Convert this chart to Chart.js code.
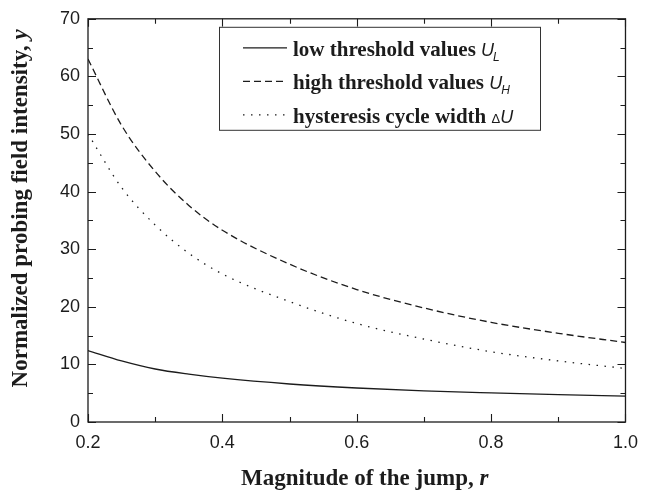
<!DOCTYPE html>
<html>
<head>
<meta charset="utf-8">
<script src="https://cdn.jsdelivr.net/npm/chart.js@4.4.1/dist/chart.umd.min.js"></script>
<style>
html,body{margin:0;padding:0;background:#fff;}
#wrap{width:648px;height:496px;}
</style>
</head>
<body>
<div id="wrap"><canvas id="c" width="648" height="496"></canvas></div>
<script>
// ---- data ----
const rValues       = [0.2, 0.25, 0.3, 0.35, 0.4, 0.5, 0.6, 0.7, 0.8, 0.9, 1.0];
const lowThreshold  = [12.4, 10.6, 9.2, 8.3, 7.6, 6.6, 5.9, 5.4, 5.05, 4.75, 4.5];
const highThreshold = [63.0, 51.5, 43.5, 37.6, 33.3, 27.4, 23.0, 19.8, 17.3, 15.4, 13.8];
const cycleWidth    = [50.0, 40.7, 34.2, 29.3, 25.7, 20.9, 17.1, 14.4, 12.2, 10.6, 9.3];

const xMajorTicks = [0.2, 0.4, 0.6, 0.8, 1.0];
const xMinorTicks = [0.3, 0.5, 0.7, 0.9];
const yMajorTicks = [0, 10, 20, 30, 40, 50, 60, 70];
const yMinorTicks = [5, 15, 25, 35, 45, 55, 65];

const seriesNames   = ['low threshold values ', 'high threshold values ', 'hysteresis cycle width '];
const seriesPrefix  = ['', '', '\u0394'];
const seriesSymbol  = ['U', 'U', 'U'];
const seriesSub     = ['L', 'H', ''];

const xTitleText = ['Magnitude of the jump, ', 'r'];
const yTitleText = ['Normalized probing field intensity, ', 'y'];

// ---- styles ----
const INK = '#1c1c1c';
const dashes = [[], [7, 4], [1.5, 6.5]];
const seriesValues = [lowThreshold, highThreshold, cycleWidth];

const datasets = seriesValues.map((vals, i) => ({
  label: seriesNames[i] + seriesPrefix[i] + seriesSymbol[i] + seriesSub[i],
  data: rValues.map((r, k) => ({x: r, y: vals[k]})),
  borderColor: INK,
  borderWidth: 1.3,
  borderDash: dashes[i],
  pointRadius: 0,
  fill: false,
  cubicInterpolationMode: 'monotone'
}));

const serifBold = (px) => 'bold ' + px + 'px "Liberation Serif", "Times New Roman", serif';
const serifBoldItalic = (px) => 'italic bold ' + px + 'px "Liberation Serif", "Times New Roman", serif';
const sansItalic = (px) => 'italic ' + px + 'px "Liberation Sans", Arial, sans-serif';
const sans = (px) => px + 'px "Liberation Sans", Arial, sans-serif';

const decorPlugin = {
  id: 'decor',
  afterDraw(chart) {
    const {ctx, chartArea: a, scales: {x, y}} = chart;
    ctx.save();
    ctx.strokeStyle = INK;
    ctx.lineWidth = 1.3;
    ctx.setLineDash([]);
    // frame
    ctx.strokeRect(a.left, a.top, a.right - a.left, a.bottom - a.top);
    // inward ticks
    const tick = (vals, len, axis) => {
      vals.forEach(v => {
        ctx.beginPath();
        if (axis === 'x') {
          const px = Math.round(x.getPixelForValue(v)) + 0.5;
          ctx.moveTo(px, a.bottom); ctx.lineTo(px, a.bottom - len);
          ctx.moveTo(px, a.top); ctx.lineTo(px, a.top + len);
        } else {
          const py = Math.round(y.getPixelForValue(v)) + 0.5;
          ctx.moveTo(a.left, py); ctx.lineTo(a.left + len, py);
          ctx.moveTo(a.right, py); ctx.lineTo(a.right - len, py);
        }
        ctx.stroke();
      });
    };
    ctx.lineWidth = 1.1;
    tick(xMajorTicks, 8, 'x'); tick(xMinorTicks, 5, 'x');
    tick(yMajorTicks, 8, 'y'); tick(yMinorTicks, 5, 'y');

    // legend
    const lx = a.left + 131, ly = a.top + 8, lw = 321, lh = 103;
    ctx.fillStyle = '#fff';
    ctx.fillRect(lx, ly, lw, lh);
    ctx.lineWidth = 1;
    ctx.strokeStyle = '#333';
    ctx.strokeRect(lx + 0.5, ly + 0.5, lw, lh);
    chart.data.datasets.forEach((ds, i) => {
      const cy = ly + 21 + i * 33.5;
      ctx.save();
      ctx.strokeStyle = INK;
      ctx.lineWidth = 1.3;
      ctx.setLineDash(ds.borderDash);
      ctx.beginPath();
      ctx.moveTo(lx + 24, cy); ctx.lineTo(lx + 68, cy);
      ctx.stroke();
      ctx.restore();
      let tx = lx + 74;
      const base = cy + 8;
      ctx.fillStyle = INK;
      ctx.textBaseline = 'alphabetic';
      ctx.textAlign = 'left';
      ctx.font = serifBold(21);
      ctx.fillText(seriesNames[i], tx, base);
      tx += ctx.measureText(seriesNames[i]).width;
      if (seriesPrefix[i]) {
        ctx.font = sans(13);
        ctx.fillText(seriesPrefix[i], tx, base);
        tx += ctx.measureText(seriesPrefix[i]).width;
      }
      ctx.font = sansItalic(18);
      ctx.fillText(seriesSymbol[i], tx, base);
      tx += ctx.measureText(seriesSymbol[i]).width;
      if (seriesSub[i]) {
        ctx.font = sansItalic(12);
        ctx.fillText(seriesSub[i], tx - 1, base + 5);
      }
    });

    // x-axis title
    ctx.fillStyle = INK;
    ctx.textBaseline = 'alphabetic';
    ctx.font = serifBold(23);
    const w1 = ctx.measureText(xTitleText[0]).width;
    ctx.font = serifBoldItalic(23);
    const w2 = ctx.measureText(xTitleText[1]).width;
    let sx = (a.left + a.right) / 2 + 8 - (w1 + w2) / 2;
    ctx.font = serifBold(23);
    ctx.fillText(xTitleText[0], sx, a.bottom + 63);
    ctx.font = serifBoldItalic(23);
    ctx.fillText(xTitleText[1], sx + w1, a.bottom + 63);

    // y-axis title (rotated)
    ctx.save();
    ctx.translate(27, (a.top + a.bottom) / 2 - 12);
    ctx.rotate(-Math.PI / 2);
    ctx.font = serifBold(23);
    const v1 = ctx.measureText(yTitleText[0]).width;
    ctx.font = serifBoldItalic(23);
    const v2 = ctx.measureText(yTitleText[1]).width;
    const sy = -(v1 + v2) / 2;
    ctx.font = serifBold(23);
    ctx.fillText(yTitleText[0], sy, 0);
    ctx.font = serifBoldItalic(23);
    ctx.fillText(yTitleText[1], sy + v1, 0);
    ctx.restore();

    ctx.restore();
  }
};

new Chart(document.getElementById('c'), {
  type: 'line',
  data: { datasets },
  options: {
    responsive: false,
    animation: false,
    devicePixelRatio: 1,
    layout: { padding: { top: 14, right: 11, left: 0, bottom: 0 } },
    plugins: { legend: { display: false }, tooltip: { enabled: false } },
    scales: {
      x: {
        type: 'linear',
        min: 0.2, max: 1.0,
        afterFit: (s) => { s.height = 74; },
        afterBuildTicks: (s) => { s.ticks = xMajorTicks.map(v => ({value: v})); },
        ticks: {
          callback: (v) => Number(v).toFixed(1),
          font: { family: '"Liberation Sans", Arial, sans-serif', size: 18 },
          color: INK,
          padding: 10,
          maxRotation: 0
        },
        grid: { display: false, drawTicks: false },
        border: { display: false }
      },
      y: {
        type: 'linear',
        min: 0, max: 70,
        afterFit: (s) => { s.width = 88; },
        afterBuildTicks: (s) => { s.ticks = yMajorTicks.map(v => ({value: v})); },
        ticks: {
          font: { family: '"Liberation Sans", Arial, sans-serif', size: 18 },
          color: INK,
          padding: 8
        },
        grid: { display: false, drawTicks: false },
        border: { display: false }
      }
    }
  },
  plugins: [decorPlugin]
});
</script>
</body>
</html>
